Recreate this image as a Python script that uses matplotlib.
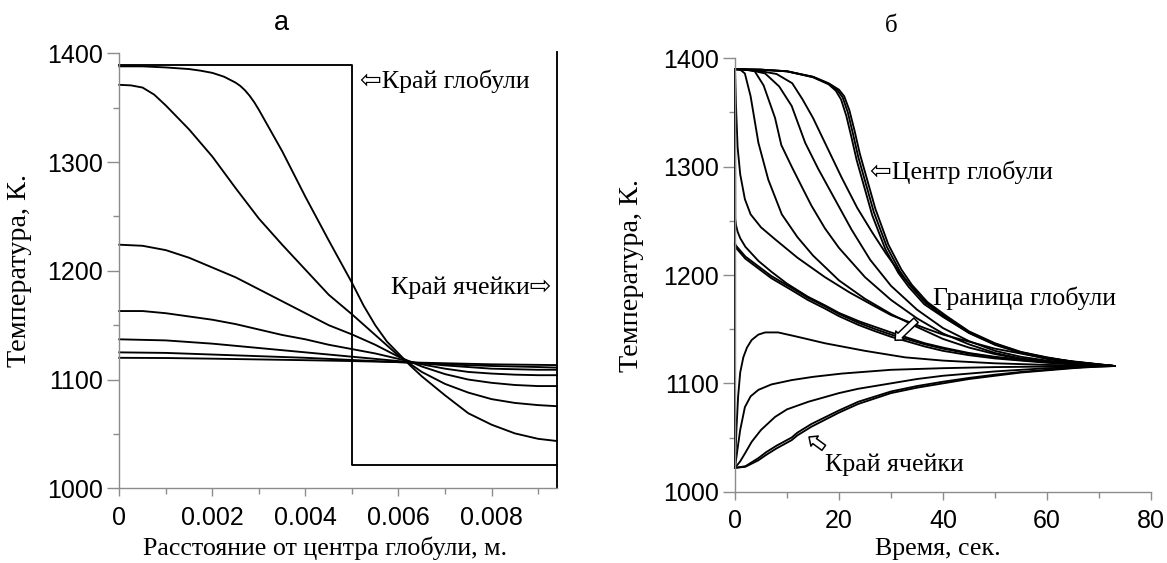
import matplotlib
matplotlib.use("Agg")
import matplotlib.pyplot as plt
from matplotlib.ticker import MultipleLocator

# ---------------- data: panel а (profiles along radius) ----------------
x1 = [0, 0.0005, 0.001, 0.0015, 0.00175, 0.002, 0.00225, 0.0025, 0.0026, 0.0027, 0.0028, 0.0029,
      0.003, 0.0035, 0.004, 0.0045, 0.005, 0.00525, 0.0055, 0.00575, 0.006, 0.00625, 0.0065,
      0.007, 0.0075, 0.008, 0.0085, 0.009, 0.0094]
prof1 = [1388, 1388, 1387, 1385.5, 1384, 1382, 1378.5, 1373, 1370, 1366, 1361, 1355,
         1348, 1310, 1268, 1228, 1189, 1168, 1150, 1135, 1124, 1113, 1103,
         1085.5, 1069, 1058.5, 1050.5, 1045.5, 1043.5]
x2 = [0, 0.00025, 0.0005, 0.00075, 0.001, 0.0015, 0.002, 0.0025, 0.003, 0.0035, 0.004,
      0.0045, 0.005, 0.0055, 0.006, 0.0065, 0.007, 0.0075, 0.008, 0.0085, 0.009, 0.0094]
prof2 = [1371, 1370.5, 1368.5, 1362, 1352, 1330, 1305, 1276, 1248, 1224, 1201,
         1178, 1160, 1141, 1122, 1107, 1096, 1088, 1082, 1078.5, 1076.5, 1075.5]
x_fine = [0, 0.0005, 0.001, 0.0015, 0.002, 0.0025, 0.003, 0.0035, 0.004, 0.0045,
          0.005, 0.0055, 0.006, 0.0065, 0.007, 0.0075, 0.008, 0.0085, 0.009, 0.0094]
prof3 = [1224, 1223, 1219, 1212, 1203, 1194, 1183, 1172, 1161, 1150,
         1141.5, 1132, 1121, 1112, 1105, 1100, 1097, 1095, 1094, 1094]
prof4 = [1163, 1163, 1161, 1158, 1155, 1151, 1146, 1141, 1137, 1132,
         1128, 1124, 1119, 1114, 1110, 1107, 1105.5, 1104.5, 1104, 1104]
x_coarse = [0, 0.001, 0.002, 0.003, 0.004, 0.005, 0.006, 0.007, 0.008, 0.009, 0.0094]
prof5 = [1137, 1136, 1133, 1129, 1125, 1121, 1117, 1113, 1110, 1109, 1109]
prof6 = [1125, 1124.5, 1123, 1121.5, 1120, 1118, 1116, 1114, 1112.5, 1111.5, 1111]
prof7 = [1120, 1119.8, 1119.2, 1118.5, 1117.8, 1117, 1116, 1115, 1114, 1113.5, 1113.3]
# initial step profile and cell edge
step_x = [0, 0.005, 0.005, 0.0094]
step_T = [1389.5, 1389.5, 1021, 1021]
edge_x = [0.0094, 0.0094]
edge_T = [1000, 1401.5]

xticks_a = [0, 0.002, 0.004, 0.006, 0.008]
xtick_labels_a = ["0", "0.002", "0.004", "0.006", "0.008"]
yticks = [1000, 1100, 1200, 1300, 1400]

# ---------------- data: panel б (temperature vs time) ----------------
tC1 = [0, 5, 10, 15, 18, 20, 21, 22, 23, 24, 25, 27, 29.5, 32, 34, 37, 40.7, 45, 50, 55, 60, 65, 70, 73]
TC1 = [1390, 1389.5, 1388, 1383, 1377, 1371, 1365, 1352, 1333, 1312, 1295, 1261, 1228, 1205, 1191, 1175, 1162, 1148, 1137, 1129, 1124, 1120, 1117.5, 1116]
tC2 = [0, 5, 10, 15, 18, 19.7, 20.7, 21.7, 22.7, 23.7, 24.7, 26.7, 29.2, 31.7, 33.7, 36.7, 40.4, 45, 50, 55, 60, 65, 70, 73]
TC2 = [1390, 1389.5, 1388, 1382.8, 1376.5, 1370.5, 1364, 1350, 1330, 1309, 1292, 1258, 1226, 1203.5, 1190, 1174, 1161.5, 1147.3, 1136.5, 1128.7, 1123.7, 1119.9, 1117.4, 1116]
tC2b = [0, 5, 10, 15, 18, 19.4, 20.4, 21.4, 22.4, 23.4, 24.4, 26.4, 28.9, 31.4, 33.4, 36.4, 40.1, 45, 50, 55, 60, 65, 70, 73]
TC2b = [1390, 1389.5, 1388, 1382.5, 1376, 1370, 1362, 1347, 1327, 1306, 1289, 1255, 1224, 1202, 1189, 1173, 1161, 1146.6, 1136, 1128.4, 1123.4, 1119.8, 1117.3, 1116]
tC3 = [0, 4, 8, 11, 13, 15, 17.5, 20.5, 23.5, 26.3, 29, 32, 36, 40, 45, 50, 55, 60, 65, 70, 73]
TC3 = [1390, 1389, 1385.5, 1377, 1362, 1345, 1320, 1290, 1262, 1240, 1220, 1200, 1178, 1162, 1146.5, 1135.5, 1128, 1122.5, 1119, 1117, 1116]
tC4 = [0, 3, 5.8, 8.5, 10.9, 13.5, 16, 19.2, 22.4, 26, 30, 35, 40, 45, 50, 55, 60, 65, 70, 73]
TC4 = [1390, 1389, 1386, 1374, 1356, 1322, 1298, 1270, 1242, 1214, 1190, 1168, 1151, 1139, 1130, 1124.5, 1121, 1118.5, 1117, 1116]
tC5 = [0, 2, 3.8, 5.5, 7.7, 8.9, 10.9, 13, 14.7, 17.3, 20, 25, 30, 35, 40, 45, 50, 55, 60, 65, 70, 73]
TC5 = [1390, 1389.5, 1388, 1375, 1345, 1320, 1300, 1280, 1264, 1243, 1225, 1198, 1177, 1160, 1146, 1136, 1128, 1123, 1120, 1118, 1116.5, 1116]
tC6 = [0, 1, 1.9, 3, 4.5, 6.4, 9, 12, 15, 20, 25, 30, 35, 40, 45, 50, 55, 60, 65, 70, 73]
TC6 = [1390, 1389.5, 1386, 1365, 1322, 1288, 1256, 1235, 1218, 1195, 1178, 1164, 1152, 1141, 1133, 1127, 1122.5, 1120, 1118, 1116.5, 1116]
tD1 = [0, 0.2, 0.5, 1, 1.9, 3, 5, 7.7, 12, 17.3, 22, 26.9, 30, 36.5, 40, 50, 60, 73]
TD1 = [1390, 1355, 1318, 1293, 1270, 1256, 1244, 1233, 1216, 1198, 1184, 1171, 1163, 1151, 1145, 1132, 1123, 1116]
tD2 = [0, 0.05, 0.2, 0.5, 1, 2, 4.5, 7, 10, 14, 17.3, 20, 24, 30, 36.5, 40, 45, 50, 55, 60, 65, 70, 73]
TD2 = [1390, 1252, 1246, 1240, 1234, 1226, 1213, 1203, 1192, 1180, 1172, 1165, 1157, 1147, 1137, 1133, 1128, 1124.5, 1122, 1120, 1118, 1116.5, 1116]
tBd1 = [0, 0.2, 2, 4.5, 7, 10.9, 14, 17.3, 20, 23.7, 27, 30, 36.5, 40, 45, 50, 55, 60, 65, 70, 73]
TBd1 = [1227, 1225, 1215, 1206, 1197, 1186, 1177, 1169, 1162, 1154, 1148, 1143, 1134, 1130, 1126, 1123, 1121, 1119, 1117.5, 1116.5, 1116]
TBd2 = [1229, 1227, 1217, 1208, 1199, 1188, 1179, 1171, 1164, 1156, 1150, 1145, 1136, 1132, 1127.5, 1124, 1121.5, 1119.5, 1118, 1117, 1116]
tB1 = [0, 0.3, 0.6, 1, 1.6, 2.3, 3.2, 4.5, 5.8, 8.3, 12, 17.3, 25, 32.7, 40, 50, 60, 73]
TB1 = [1022, 1060, 1088, 1110, 1124, 1133, 1140, 1145, 1147, 1147, 1143, 1137, 1130, 1124, 1121, 1118.5, 1117, 1116]
tB2 = [0, 0.5, 1, 1.9, 3, 4.5, 7, 10.9, 15, 20.5, 30, 40, 50, 60, 73]
TB2 = [1022, 1040, 1057, 1078, 1088, 1094, 1099, 1103, 1106, 1109, 1112.5, 1114, 1115, 1115.5, 1116]
tB3 = [0, 1, 2, 3.2, 5, 7.7, 10, 14.1, 20, 23.7, 30, 35, 40, 50, 60, 73]
TB3 = [1022, 1028, 1036, 1046, 1057, 1069, 1076, 1083, 1091, 1095, 1100, 1104, 1107, 1111, 1114, 1116]
tB4 = [0, 2, 4.5, 6, 8, 10.9, 12, 14.7, 20, 23.7, 30, 35, 40, 45, 50, 55, 60, 65, 70, 73]
TB4 = [1022, 1023, 1029, 1034, 1040, 1047.6, 1052, 1060, 1073, 1081, 1091, 1096, 1100, 1104, 1107, 1110, 1112, 1114, 1115.5, 1116]
TB5 = [1022, 1023.5, 1031, 1036.5, 1042.5, 1050, 1054.5, 1062.5, 1075, 1083, 1092.5, 1097.5, 1101.5, 1105, 1108, 1110.5, 1112.5, 1114.5, 1115.8, 1116]
tjump = [0, 0]
Tjump = [1022, 1390]

xticks_b = [0, 20, 40, 60, 80]
xtick_labels_b = ["0", "20", "40", "60", "80"]

# ---------------- styling ----------------
SERIF = ["Liberation Serif", "DejaVu Serif"]
SANS = ["Liberation Sans", "DejaVu Sans"]
ARROW_FAM = ["Liberation Serif", "DejaVu Sans"]
LW = 1.35
TICKFS = 18
LABFS = 18.7
YLABFS = 20.3
SPINE = "#8c8c8c"

W, H = 1167, 563
fig = plt.figure(figsize=(W / 100, H / 100), dpi=100)
axA = fig.add_axes([119.3 / W, 1 - 488.3 / H, (556.7 - 119.3) / W, (488.3 - 53.3) / H])
axB = fig.add_axes([735 / W, 1 - 491.7 / H, (1151 - 735) / W, (491.7 - 58.3) / H])


def style(ax):
    for s in ("top", "right"):
        ax.spines[s].set_visible(False)
    for s in ("left", "bottom"):
        ax.spines[s].set_color(SPINE)
        ax.spines[s].set_linewidth(1.0)
    ax.tick_params(axis="y", which="major", length=8.6, width=1.0, color=SPINE, labelsize=TICKFS, pad=3.2)
    ax.tick_params(axis="y", which="minor", length=4, width=1.0, color=SPINE)
    ax.tick_params(axis="x", which="major", length=6, width=1.0, color=SPINE, labelsize=TICKFS, pad=6.5)
    ax.tick_params(axis="x", which="minor", length=4, width=1.0, color=SPINE)
    for lab in ax.get_xticklabels() + ax.get_yticklabels():
        lab.set_family(SANS)
    ax.set_yticks(yticks)
    ax.yaxis.set_minor_locator(MultipleLocator(50))


# panel а
axA.set_xlim(0, 0.0094)
axA.set_ylim(1000, 1400)
for xs, ys in [(step_x, step_T), (x1, prof1), (x2, prof2), (x_fine, prof3),
               (x_fine, prof4), (x_coarse, prof5), (x_coarse, prof6), (x_coarse, prof7)]:
    axA.plot(xs, ys, color="black", lw=LW, clip_on=False)
axA.plot(edge_x, edge_T, color="black", lw=LW, clip_on=False)
axA.set_xticks(xticks_a)
axA.set_xticklabels(xtick_labels_a)
axA.xaxis.set_minor_locator(MultipleLocator(0.001))
style(axA)
fig.text(325 / W, 1 - 548 / H, "Расстояние от центра глобули, м.", family=SERIF,
         fontsize=LABFS, ha="center", va="center")
fig.text(20 / W, 1 - 271 / H, "Температура, К.", family=SERIF, fontsize=YLABFS,
         ha="center", va="center", rotation=90)
fig.text(281 / W, 1 - 22.5 / H, "а", family=SANS, fontsize=19.5, ha="center", va="center")
axA.text(0.00517, 1374, "⇦Край глобули", family=ARROW_FAM, fontsize=LABFS, va="center", ha="left")
axA.text(0.00928, 1184.5, "Край ячейки⇨", family=ARROW_FAM, fontsize=LABFS, va="center", ha="right")

# panel б
axB.set_xlim(0, 80)
axB.set_ylim(1000, 1400)
curves_b = [(tC1, TC1), (tC2, TC2), (tC2b, TC2b), (tC3, TC3), (tC4, TC4), (tC5, TC5), (tC6, TC6),
            (tD1, TD1), (tD2, TD2), (tBd1, TBd1), (tBd1, TBd2), (tB1, TB1), (tB2, TB2),
            (tB3, TB3), (tB4, TB4), (tB4, TB5), (tjump, Tjump)]
for xs, ys in curves_b:
    axB.plot(xs, ys, color="black", lw=LW, clip_on=False)
axB.set_xticks(xticks_b)
axB.set_xticklabels(xtick_labels_b)
axB.xaxis.set_minor_locator(MultipleLocator(10))
style(axB)
fig.text(938 / W, 1 - 549 / H, "Время, сек.", family=SERIF, fontsize=LABFS, ha="center", va="center")
fig.text(632 / W, 1 - 275 / H, "Температура, К.", family=SERIF, fontsize=YLABFS,
         ha="center", va="center", rotation=90)
fig.text(891 / W, 1 - 25.5 / H, "б", family=SERIF, fontsize=18, ha="center", va="center")
axB.text(26.0, 1295, "⇦Центр глобули", family=ARROW_FAM, fontsize=LABFS, va="center", ha="left")
axB.text(38.1, 1178.5, "Граница глобули", family=SERIF, fontsize=LABFS, va="center", ha="left")
axB.text(17.3, 1024.6, "Край ячейки", family=SERIF, fontsize=LABFS, va="center", ha="left")
hollow = dict(arrowstyle="simple,head_length=0.5,head_width=0.9,tail_width=0.45",
              fc="white", ec="black", lw=1.1)
axB.annotate("", xy=(30.4, 1138), xytext=(35.2, 1160), arrowprops=hollow)
axB.annotate("", xy=(13.8, 1052), xytext=(17.5, 1039), arrowprops=hollow)

fig.savefig("out.png", dpi=100)
